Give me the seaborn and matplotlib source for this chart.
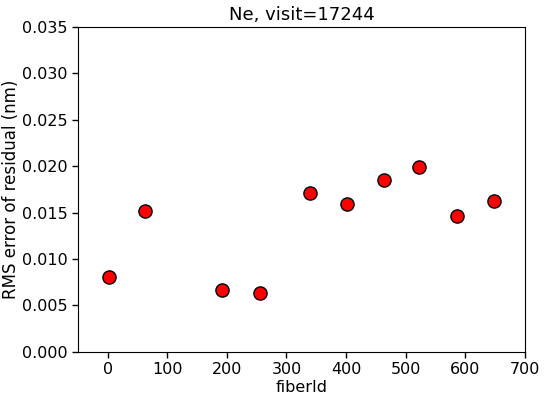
import matplotlib
matplotlib.use("Agg")
import matplotlib.pyplot as plt
import seaborn as sns
import pandas as pd

fiber_id = [2, 63, 192, 255, 339, 401, 464, 523, 586, 649]
rms_error = [0.0081, 0.0152, 0.0067, 0.0063, 0.0171, 0.0159, 0.0185, 0.0199, 0.0146, 0.0163]
title = "Ne, visit=17244"

sns.set_style("white")
plt.rcParams['font.family'] = ['DejaVu Sans']

df = pd.DataFrame({"fiberId": fiber_id, "rms": rms_error})
fig = plt.figure(figsize=(5.45, 4.03), dpi=100)
ax = fig.add_axes([0.143, 0.127, 0.820, 0.806])
sns.scatterplot(data=df, x="fiberId", y="rms", ax=ax, color="red",
                edgecolor="black", linewidth=1, s=90, zorder=3)
ax.set_xlim(-50, 700)
ax.set_ylim(0, 0.035)
ax.set_xticks([0, 100, 200, 300, 400, 500, 600, 700])
ax.set_yticks([0.0, 0.005, 0.010, 0.015, 0.020, 0.025, 0.030, 0.035])
ax.set_yticklabels([f"{v:.3f}" for v in ax.get_yticks()])
ax.tick_params(axis="both", labelsize=11.5, length=4, width=1, direction="out",
               bottom=True, left=True, color="black", labelcolor="black")
ax.set_xlabel("fiberId", fontsize=11.5, color="black", labelpad=2)
ax.set_ylabel("RMS error of residual (nm)", fontsize=12, color="black", labelpad=1)
ax.set_title(title, fontsize=13, color="black", pad=5)
for sp in ax.spines.values():
    sp.set_color("black")
    sp.set_linewidth(0.8)
fig.savefig("out.png", dpi=100)
